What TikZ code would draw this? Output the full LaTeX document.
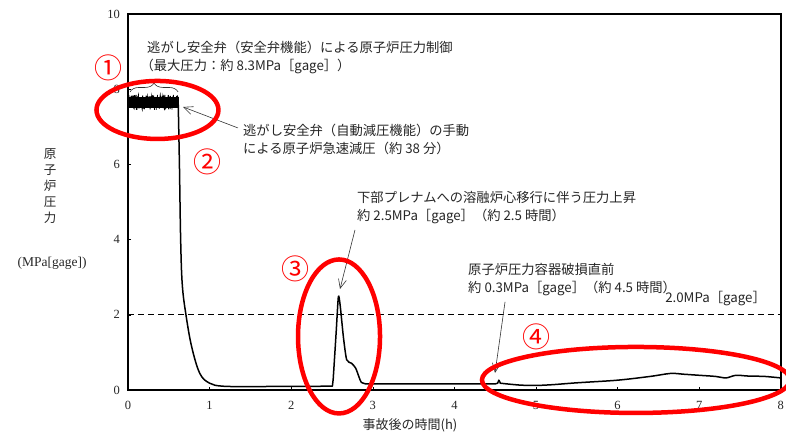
\documentclass[tikz,border=0pt]{standalone}
\usepackage{fontspec}
\setmainfont{Liberation Serif}
\newfontfamily\jp{Noto Sans CJK JP}
\usetikzlibrary{math,positioning,arrows.meta,decorations.pathreplacing}

\begin{document}
\begin{tikzpicture}[x=81.6pt,y=37.6pt]

\tikzmath{
	\T = 3;
}

\tikzset{note/.style={
    anchor=west, align=left, inner sep=0pt,
    font=\jp\fontsize{13.3}{18}\selectfont, text=black!85
  },
  tick label/.style={font=\fontsize{12.5}{14}\selectfont, text=black!85, inner sep=0pt},
  red ring/.style={draw=red, line width=4.5pt},
  circled/.style={font=\jp\fontsize{28}{28}\selectfont, text=red, inner sep=0pt},
  callout/.style={-{Straight Barb[length=9pt,width=8pt]}, line width=0.6pt, black!80},
  curve/.style={line width=1.5pt, line join=round}
}

\useasboundingbox (-1.569,-1.223) rectangle (8.064,10.372);

% frame, ticks
\draw[line width=1.6pt] (0,0) rectangle (8,10);
\foreach \i in {0,...,8}{
  \draw ([yshift=\T pt]\i,0) -- (\i,0);
  \node[tick label, below=11pt] (xt\i) at (\i,0) {\i};
}
\foreach \j in {0,2,...,10}{
  \draw ([xshift=\T pt]0,\j) -- (0,\j);
  \node[tick label, left=8pt] (yt\j) at (0,\j) {\j};
}
\node[font=\jp\fontsize{12.5}{16}\selectfont, align=center, text=black!85] (ylab) at (-0.956,5.412) {原\\子\\炉\\圧\\力};
\node[tick label, font=\fontsize{13.5}{14}\selectfont] (yunit) at (-0.931,3.378) {(MPa[gage])};
\node[font=\jp\fontsize{13}{14}\selectfont, text=black!85] (xlab) at (3.456,-0.931) {事故後の時間(h)};

% 2.0MPa line
\draw[line width=1.2pt, dash pattern=on 6pt off 4pt] (0,2) -- (8,2);
\node[note, anchor=east] (lim) at (7.819,2.42) {2.0MPa［gage］};

% pressure
\fill (0,7.5) rectangle (0.62,7.8);
\pgfmathsetseed{7}
\draw[line width=0.8pt] plot[domain=0:0.62, samples=200] (\x,{7.65+0.2*rand});
\draw[curve] plot[smooth, tension=0.6] coordinates {(0.615,7.65) (0.63,6.0) (0.645,4.0) (0.665,2.8) (0.71,2.0) (0.78,1.15) (0.88,0.44) (1.0,0.18) (1.16,0.1) (1.5,0.09)}
  -- (2.505,0.1) -- (2.515,0.3)
  -- plot[smooth, tension=0.4] coordinates {(2.515,0.3) (2.55,1.5) (2.578,2.48) (2.6,2.25) (2.64,1.4) (2.68,0.8) (2.74,0.71) (2.79,0.58) (2.83,0.35) (2.86,0.2) (2.92,0.16)}
  -- (4.5,0.16) -- (4.53,0.18) -- (4.545,0.26) -- (4.56,0.2)
  -- plot[smooth] coordinates {(4.56,0.18) (4.8,0.13) (5.0,0.12) (5.2,0.14) (5.5,0.19) (6.0,0.26) (6.4,0.36) (6.65,0.44) (6.8,0.42) (7.0,0.39) (7.2,0.36) (7.33,0.32) (7.45,0.39) (7.6,0.37) (7.8,0.36) (8,0.32)};

% notes
\node[note] (srv) at (0.233,8.856) {逃がし安全弁（安全弁機能）による原子炉圧力制御\\\hspace*{-0.5em}（最大圧力：約 8.3MPa［gage］）};
\coordinate (brace l) at (0.025,7.926);
\coordinate (brace r) at (0.613,7.926);
\draw[decorate, decoration={brace, amplitude=9pt}, line width=0.6pt, black!80] (brace l) -- (brace r);

\node[note] (adsr) at (1.409,6.676) {逃がし安全弁（自動減圧機能）の手動\\による原子炉急速減圧（約 38 分）};
\coordinate (band end) at (0.674,7.527);
\draw[callout] ([shift={(-5pt,11pt)}]adsr.west) -- (band end);

\node[note] (melt) at (2.806,4.840) {下部プレナムへの溶融炉心移行に伴う圧力上昇\\約 2.5MPa［gage］（約 2.5 時間）};
\coordinate (peak) at (2.598,2.686);
\draw[callout] ([shift={(-2pt,-22pt)}]melt.west) -- (peak);

\node[note] (rpv) at (4.167,2.939) {原子炉圧力容器破損直前\\約 0.3MPa［gage］（約 4.5 時間）};
\coordinate (breach) at (4.498,0.452);
\draw[callout] ([shift={(37pt,-22.5pt)}]rpv.west) -- (breach);

% red marks
\draw[red ring] (0.361,7.447) ellipse [x radius=61pt, y radius=29pt];
\draw[red ring] (2.586,1.423) ellipse [x radius=41pt, y radius=77pt];
\draw[red ring] (6.225,0.266) ellipse [x radius=154pt, y radius=33pt];
\node[circled] (c1) at (-0.245,8.56) {①};
\node[circled] (c2) at (0.980,6.064) {②};
\node[circled] (c3) at (2.047,3.218) {③};
\node[circled] (c4) at (5.012,1.410) {④};

\end{tikzpicture}
\end{document}
